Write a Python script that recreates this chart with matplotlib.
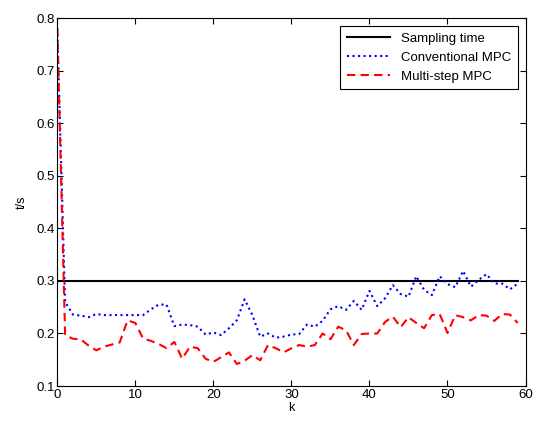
import numpy as np
import matplotlib.pyplot as plt

plt.rcParams['font.family'] = ['Liberation Sans', 'DejaVu Sans']

k = np.arange(60)
sampling = [0.3] * 60
conventional = [0.78, 0.26, 0.236, 0.234, 0.231, 0.237, 0.235, 0.235, 0.235, 0.235,
                0.235, 0.235, 0.246, 0.255, 0.255, 0.214, 0.217, 0.216, 0.213, 0.198,
                0.202, 0.197, 0.21, 0.225, 0.265, 0.235, 0.194, 0.2, 0.192, 0.194,
                0.198, 0.199, 0.217, 0.213, 0.224, 0.246, 0.252, 0.245, 0.262, 0.245,
                0.281, 0.252, 0.267, 0.292, 0.275, 0.27, 0.309, 0.283, 0.273, 0.309,
                0.294, 0.288, 0.319, 0.289, 0.302, 0.313, 0.295, 0.295, 0.284, 0.295]
multistep = [0.78, 0.197, 0.19, 0.189, 0.177, 0.168, 0.175, 0.179, 0.183, 0.225,
             0.22, 0.19, 0.186, 0.18, 0.172, 0.184, 0.152, 0.175, 0.172, 0.152,
             0.146, 0.155, 0.164, 0.142, 0.148, 0.159, 0.149, 0.178, 0.172, 0.164,
             0.172, 0.178, 0.175, 0.178, 0.2, 0.189, 0.213, 0.206, 0.178, 0.199,
             0.2, 0.2, 0.222, 0.232, 0.212, 0.231, 0.22, 0.21, 0.235, 0.237,
             0.201, 0.235, 0.231, 0.225, 0.235, 0.234, 0.224, 0.237, 0.236, 0.22]

fig = plt.figure(figsize=(5.33, 4.21), dpi=100)
ax = fig.add_axes([0.1075, 0.083, 0.8785, 0.874])

ax.plot(k, sampling, color='black', lw=1.5, label='Sampling time')
ax.plot(k, conventional, color='blue', lw=1.5, ls=':', label='Conventional MPC')
ax.plot(k, multistep, color='red', lw=1.5, ls='--', dashes=(4, 2.5), label='Multi-step MPC')

ax.set_xlim(0, 60)
ax.set_ylim(0.1, 0.8)
ax.set_xticks(range(0, 61, 10))
ax.set_yticks(np.arange(0.1, 0.81, 0.1))
ax.tick_params(direction='in', top=True, right=True, labelsize=9.5, length=4, pad=2)
ax.set_xlabel('k', fontsize=9, labelpad=1)
ax.set_ylabel('t/s', fontsize=9, labelpad=6)

leg = ax.legend(loc='upper right', fontsize=9.5, fancybox=False, framealpha=1,
                edgecolor='black', handlelength=3.3, labelspacing=0.5,
                borderaxespad=0.6, borderpad=0.5)
leg.get_frame().set_linewidth(0.8)

plt.savefig('out.png', dpi=100)
